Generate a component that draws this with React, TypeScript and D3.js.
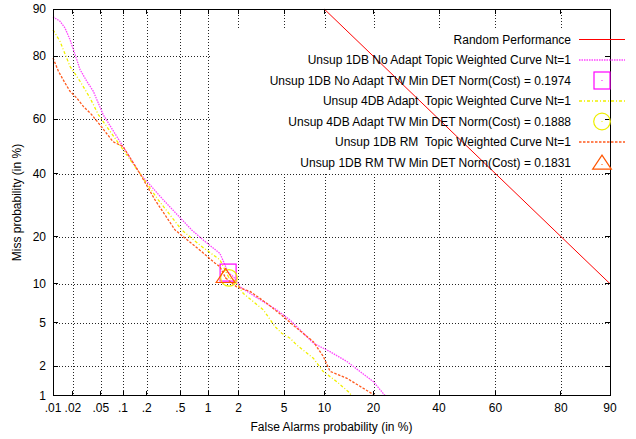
import React from 'react';
import * as d3 from 'd3';

const xTicks = [0.01, 0.02, 0.05, 0.1, 0.2, 0.5, 1, 2, 5, 10, 20, 40, 60, 80, 90];
const xTickLabels = ['.01', '.02', '.05', '.1', '.2', '.5', '1', '2', '5', '10', '20', '40', '60', '80', '90'];
const yTicks = [1, 2, 5, 10, 20, 40, 60, 80, 90];
const yTickLabels = ['1', '2', '5', '10', '20', '40', '60', '80', '90'];

const randomFA = [10, 90];
const randomMiss = [90, 10];

const magentaFA = [0.01, 0.0128, 0.0152, 0.0181, 0.0215, 0.0254, 0.0318, 0.0394, 0.054, 0.1, 0.165, 0.318, 0.668, 0.89, 1.32, 1.59, 1.79, 2.07, 2.84, 4.36, 5.58, 7.48, 8.35, 10.9, 14.0, 16.8, 20.0, 23.0];
const magentaMiss = [88.7, 87.9, 86.6, 84.1, 80.5, 76.4, 72.9, 69.7, 61.7, 50, 40, 30.9, 21.8, 19.1, 15.9, 12.0, 11.2, 9.5, 8.05, 6.35, 5.26, 3.79, 3.31, 2.77, 2.23, 1.78, 1.4, 1.0];

const yellowFA = [0.01, 0.0128, 0.0181, 0.0254, 0.0354, 0.0463, 0.165, 0.277, 0.518, 0.856, 1.32, 1.62, 1.85, 2.22, 3.36, 4.22, 4.79, 5.58, 6.29, 8.35, 9.8, 12.1, 14.3, 15.0];
const yellowMiss = [86.2, 83.7, 77.3, 72.9, 67.5, 61.7, 40, 30.9, 21.8, 17.5, 14.5, 11.0, 10.5, 8.5, 6.35, 4.63, 4.06, 3.67, 3.19, 2.4, 1.78, 1.4, 1.1, 1.0];

const orangeFA = [0.01, 0.0121, 0.0152, 0.0181, 0.0227, 0.0284, 0.0373, 0.0488, 0.0736, 0.1, 0.165, 0.253, 0.435, 0.856, 1.18, 1.32, 1.5, 1.92, 2.56, 3.59, 4.94, 6.29, 8.35, 9.8, 10.9, 14.0, 17.5, 20.4];
const orangeMiss = [79.6, 75.9, 72.4, 69.7, 67.5, 64.6, 61.7, 58.0, 51.8, 50, 40, 30.9, 21.8, 16.3, 13.8, 13.1, 11.0, 9.5, 8.8, 7.16, 5.6, 4.49, 3.42, 2.5, 1.79, 1.52, 1.2, 1.0];

const minPointsFA = [1.59, 1.62, 1.5];
const minPointsMiss = [11.95, 11.0, 11.0];

const legendLabels = [
  'Random Performance',
  'Unsup 1DB No Adapt Topic Weighted Curve Nt=1',
  'Unsup 1DB No Adapt TW Min DET Norm(Cost) = 0.1974',
  'Unsup 4DB Adapt  Topic Weighted Curve Nt=1',
  'Unsup 4DB Adapt TW Min DET Norm(Cost) = 0.1888',
  'Unsup 1DB RM  Topic Weighted Curve Nt=1',
  'Unsup 1DB RM TW Min DET Norm(Cost) = 0.1831',
];

function probit(p: number): number {
  const a = [-3.969683028665376e1, 2.209460984245205e2, -2.759285104469687e2, 1.38357751867269e2, -3.066479806614716e1, 2.506628277459239];
  const b = [-5.447609879822406e1, 1.615858368580409e2, -1.556989798598866e2, 6.680131188771972e1, -1.328068155288572e1];
  const c = [-7.784894002430293e-3, -3.223964580411365e-1, -2.400758277161838, -2.549732539343734, 4.374664141464968, 2.938163982698783];
  const d = [7.784695709041462e-3, 3.224671290700398e-1, 2.445134137142996, 3.754408661907416];
  const plow = 0.02425;
  const phigh = 1 - plow;
  if (p < plow) {
    const q = Math.sqrt(-2 * Math.log(p));
    return (((((c[0] * q + c[1]) * q + c[2]) * q + c[3]) * q + c[4]) * q + c[5]) / ((((d[0] * q + d[1]) * q + d[2]) * q + d[3]) * q + 1);
  }
  if (p <= phigh) {
    const q = p - 0.5;
    const r = q * q;
    return ((((((a[0] * r + a[1]) * r + a[2]) * r + a[3]) * r + a[4]) * r + a[5]) * q) / (((((b[0] * r + b[1]) * r + b[2]) * r + b[3]) * r + b[4]) * r + 1);
  }
  const q = Math.sqrt(-2 * Math.log(1 - p));
  return -(((((c[0] * q + c[1]) * q + c[2]) * q + c[3]) * q + c[4]) * q + c[5]) / ((((d[0] * q + d[1]) * q + d[2]) * q + d[3]) * q + 1);
}

const L = 53, R = 610, T = 9.3, B = 395.6;
const xLin = d3.scaleLinear().domain([probit(0.0001), probit(0.9)]).range([L, R]);
const yLin = d3.scaleLinear().domain([probit(0.01), probit(0.9)]).range([B, T]);
const xs = (v: number) => xLin(probit(v / 100));
const ys = (v: number) => yLin(probit(v / 100));

const FONT = "'Liberation Sans', Arial, Helvetica, sans-serif";

const MAG = '#ff44ff';
const YEL = '#f0f000';
const ORA = '#ff5a1e';

function pathOf(fa: number[], miss: number[]) {
  const pts = fa.map((f, i) => [xs(f), ys(miss[i])] as [number, number]);
  return d3.line()(pts) || '';
}

function Square({ cx, cy, color }: any) {
  return (
    <g>
      <rect x={cx - 8} y={cy - 8.5} width={16} height={17} fill="none" stroke={color} strokeWidth={1.2} />
      <rect x={cx - 0.5} y={cy - 0.5} width={1} height={1} fill={color} />
    </g>
  );
}
function Circle({ cx, cy, color }: any) {
  return (
    <g>
      <circle cx={cx} cy={cy} r={8.3} fill="none" stroke={color} strokeWidth={1.2} />
      <rect x={cx - 0.5} y={cy - 0.5} width={1} height={1} fill={color} />
    </g>
  );
}
function Triangle({ cx, cy, color }: any) {
  const h = 7;
  const pts = [
    [cx, cy - (4 * h) / 3],
    [cx - (4 * h) / 3, cy + (2 * h) / 3],
    [cx + (4 * h) / 3, cy + (2 * h) / 3],
  ];
  return (
    <g>
      <polygon points={pts.map((p) => p.join(',')).join(' ')} fill="none" stroke={color} strokeWidth={1.2} />
      <rect x={cx - 0.5} y={cy - 0.5} width={1} height={1} fill={color} />
    </g>
  );
}

export default function App() {
  const gridX = xTicks.filter((t) => t !== 0.01 && t !== 90);
  const gridY = yTicks.filter((t) => t !== 1 && t !== 90);
  const rowY = legendLabels.map((_, i) => 39.5 + i * 20.5);
  const sx1 = 579, sx2 = 625, sxc = 602;

  return (
    <div style={{ position: 'fixed', left: 0, top: 0 }}>
      <svg width={636} height={439} style={{ display: 'block', background: '#fff' }} fontFamily={FONT} fontSize={12}>
        {/* grid */}
        <g stroke="#000" strokeWidth={1} strokeDasharray="1,2" shapeRendering="crispEdges" opacity={0.85}>
          {gridX.map((t) => (
            <line key={'gx' + t} x1={Math.round(xs(t)) + 0.5} x2={Math.round(xs(t)) + 0.5} y1={T} y2={B} />
          ))}
          {gridY.map((t) => (
            <line key={'gy' + t} x1={L} x2={R} y1={Math.round(ys(t)) + 0.5} y2={Math.round(ys(t)) + 0.5} />
          ))}
        </g>
        {/* opaque key box */}
        <rect x={211} y={29} width={R - 211} height={143} fill="#fff" />

        {/* tick labels */}
        {yTicks.map((t, i) => (
          <text key={'yl' + t} x={46} y={ys(t)} textAnchor="end" dominantBaseline="central" fill="#000">
            {yTickLabels[i]}
          </text>
        ))}
        {xTicks.map((t, i) => (
          <text key={'xl' + t} x={xs(t)} y={408} textAnchor="middle" dominantBaseline="central" fill="#000">
            {xTickLabels[i]}
          </text>
        ))}
        <text x={331.5} y={427} textAnchor="middle" dominantBaseline="central" fill="#000">
          False Alarms probability (in %)
        </text>
        <text transform={`translate(17,202.5) rotate(-90)`} textAnchor="middle" dominantBaseline="central" fill="#000">
          Miss probability (in %)
        </text>

        {/* random performance */}
        <line x1={xs(randomFA[0])} y1={ys(randomMiss[0])} x2={xs(randomFA[1])} y2={ys(randomMiss[1])} stroke="#ff0000" strokeWidth={1} />

        {/* curves */}
        <path d={pathOf(magentaFA, magentaMiss)} fill="none" stroke={MAG} strokeWidth={1.3} strokeDasharray="1.5,1" />
        <Square cx={xs(minPointsFA[0])} cy={ys(minPointsMiss[0])} color="#ff00ff" />
        <path d={pathOf(yellowFA, yellowMiss)} fill="none" stroke={YEL} strokeWidth={1.3} strokeDasharray="3,2,1,2" />
        <Circle cx={xs(minPointsFA[1])} cy={ys(minPointsMiss[1])} color="#eeee00" />
        <path d={pathOf(orangeFA, orangeMiss)} fill="none" stroke={ORA} strokeWidth={1.3} strokeDasharray="2.5,1.5" />
        <Triangle cx={xs(minPointsFA[2])} cy={ys(minPointsMiss[2])} color="#ff5500" />

        {/* border and ticks */}
        <g stroke="#000" strokeWidth={1} shapeRendering="crispEdges">
          <rect x={L} y={T} width={R - L} height={B - T} fill="none" />
          {xTicks.map((t) => (
            <g key={'xt' + t}>
              <line x1={xs(t)} x2={xs(t)} y1={B} y2={B - 5} />
              <line x1={xs(t)} x2={xs(t)} y1={T} y2={T + 5} />
            </g>
          ))}
          {yTicks.map((t) => (
            <g key={'yt' + t}>
              <line x1={L} x2={L + 5} y1={ys(t)} y2={ys(t)} />
              <line x1={R} x2={R - 5} y1={ys(t)} y2={ys(t)} />
            </g>
          ))}
        </g>

        {/* legend */}
        {legendLabels.map((lab, i) => (
          <text key={'lg' + i} x={571} y={rowY[i]} textAnchor="end" dominantBaseline="central" fill="#000" style={{ whiteSpace: 'pre' }}>
            {lab}
          </text>
        ))}
        <line x1={sx1} x2={sx2} y1={rowY[0]} y2={rowY[0]} stroke="#ff0000" strokeWidth={1} />
        <line x1={sx1} x2={sx2} y1={rowY[1]} y2={rowY[1]} stroke={MAG} strokeWidth={1.3} strokeDasharray="1.5,1" />
        <Square cx={sxc} cy={rowY[2]} color="#ff00ff" />
        <line x1={sx1} x2={sx2} y1={rowY[3]} y2={rowY[3]} stroke={YEL} strokeWidth={1.3} strokeDasharray="3,2,1,2" />
        <Circle cx={sxc} cy={rowY[4]} color="#eeee00" />
        <line x1={sx1} x2={sx2} y1={rowY[5]} y2={rowY[5]} stroke={ORA} strokeWidth={1.3} strokeDasharray="2.5,1.5" />
        <Triangle cx={sxc} cy={rowY[6] + 2} color="#ff5500" />
      </svg>
    </div>
  );
}
